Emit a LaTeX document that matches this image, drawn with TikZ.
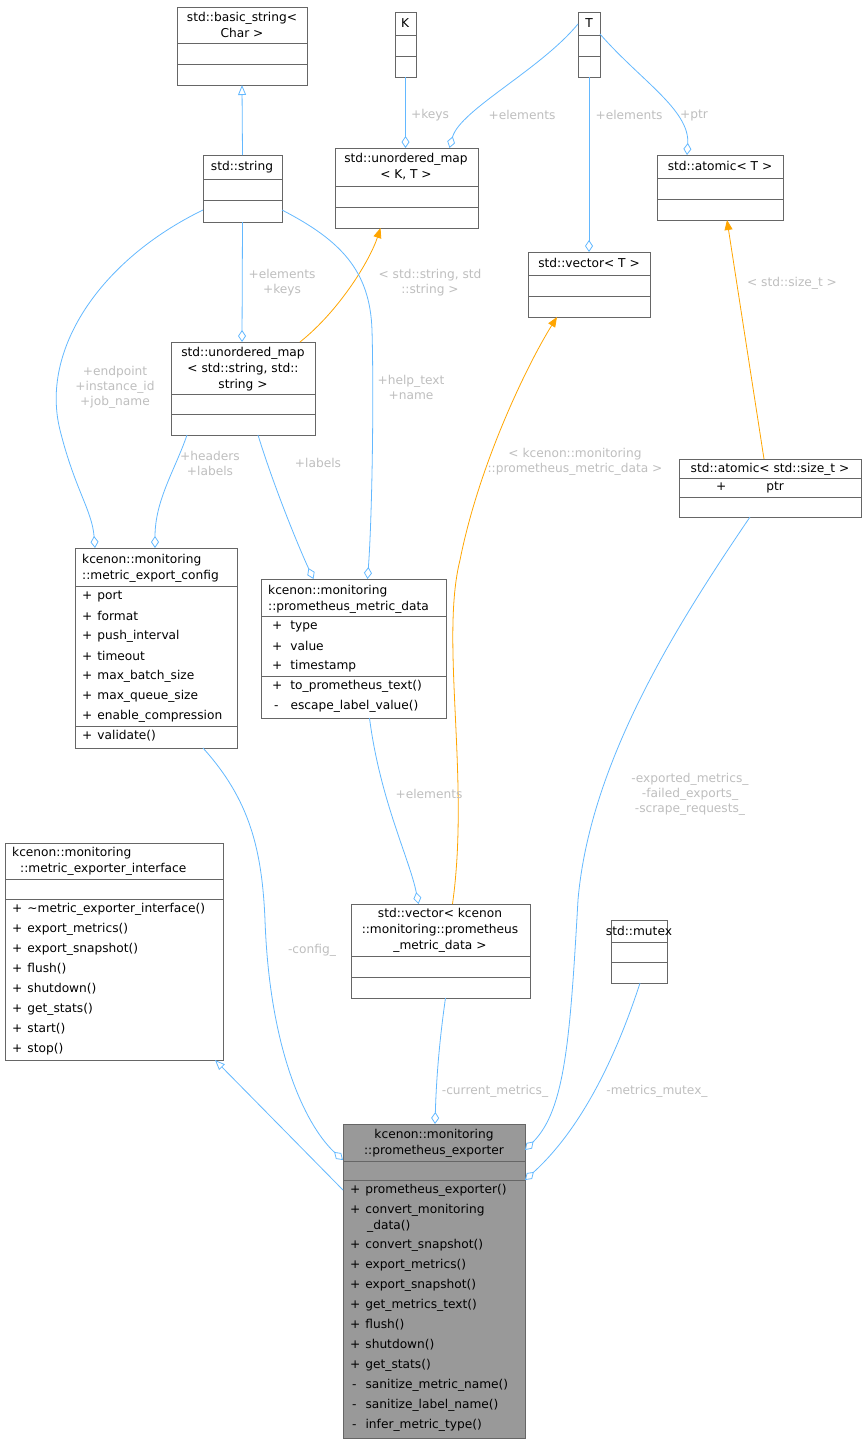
\documentclass[tikz,border=0pt]{standalone}
\usepackage{fontspec}
\setmainfont{DejaVu Sans}
\usetikzlibrary{arrows.meta}
\definecolor{eb}{HTML}{63B8FF}
\definecolor{eo}{HTML}{FFA500}
\definecolor{lg}{HTML}{BEBEBE}
\definecolor{bd}{HTML}{666666}
\begin{document}
\begin{tikzpicture}[x=1pt,y=-1pt,
  every node/.style={font=\fontsize{12.2}{16}\selectfont,inner sep=0pt},
  box/.style={draw=bd,line width=0.8pt,inner sep=0pt,outer sep=0pt},
  sep/.style={draw=bd,line width=0.8pt},
  agg/.style={draw=eb,line width=0.8pt,-{Diamond[open,length=12pt,width=8pt]}},
  inh/.style={draw=eb,line width=0.8pt,-{Triangle[open,length=10pt,width=8pt]}},
  tpl/.style={draw=eo,line width=0.8pt,-{Triangle[length=10pt,width=8pt]}},
  lbl/.style={text=lg,align=center,font=\fontsize{12.2}{15}\selectfont},
  tt/.style={align=center},
  mm/.style={anchor=west}]
\useasboundingbox (0,0) rectangle (867,1444);
\newcommand\clsbox[6]{\node[box,fill=#6,minimum width={(#4-#2)*1pt},minimum height={(#5-#3)*1pt}] (#1) at ({(#2+#4)/2},{(#3+#5)/2}) {};}
\newcommand\hsep[3]{\draw[sep] (#1,#3) -- (#2,#3);}
% basic_string
\clsbox{bs}{177}{7}{307}{85}{white}
\node[tt] at (242,25) {std::basic\_string\textless\\Char \textgreater};
\hsep{177}{307}{43}\hsep{177}{307}{64}
% K
\clsbox{K}{395}{12}{416}{77}{white}
\node at (405,23) {K};\hsep{395}{416}{35}\hsep{395}{416}{56}
% T
\clsbox{T}{578}{12}{600}{77}{white}
\node at (589,23) {T};\hsep{578}{600}{35}\hsep{578}{600}{56}
% string
\clsbox{str}{203}{155}{282}{222}{white}
\node at (242,167) {std::string};\hsep{203}{282}{179}\hsep{203}{282}{200}
% umap KT
\clsbox{umkt}{335}{148}{478}{228}{white}
\node[tt] at (406,167) {std::unordered\_map\\\textless{} K, T \textgreater};
\hsep{335}{478}{186}\hsep{335}{478}{207}
% atomic T
\clsbox{atT}{657}{155}{783}{220}{white}
\node at (720,166) {std::atomic\textless{} T \textgreater};\hsep{657}{783}{178}\hsep{657}{783}{199}
% vector T
\clsbox{vecT}{528}{252}{650}{317}{white}
\node at (589,263) {std::vector\textless{} T \textgreater};\hsep{528}{650}{275}\hsep{528}{650}{296}
% umap string
\clsbox{umss}{171}{342}{315}{435}{white}
\node[tt] at (243,369) {std::unordered\_map\\\textless{} std::string, std::\\string \textgreater};
\hsep{171}{315}{394}\hsep{171}{315}{414}
% atomic size_t
\clsbox{atS}{679}{459}{861}{517}{white}
\node at (770,469) {std::atomic\textless{} std::size\_t \textgreater};
\hsep{679}{861}{478}\node[mm] at (716,487) {+\hspace{40pt}ptr};\hsep{679}{861}{497}
% metric_export_config
\clsbox{mec}{75}{548}{237}{748}{white}
\node[tt,anchor=west,align=left] at (82,568) {kcenon::monitoring\\::metric\_export\_config};
\hsep{75}{237}{586}
\foreach \t [count=\i from 0] in {port,format,push\_interval,timeout,max\_batch\_size,max\_queue\_size,enable\_compression}
  \node[mm] at (82,596+20*\i) {+\hspace{5pt}\t};
\hsep{75}{237}{726}\node[mm] at (82,736) {+\hspace{5pt}validate()};
% prometheus_metric_data
\clsbox{pmd}{261}{579}{446}{718}{white}
\node[anchor=west,align=left] at (268,599) {kcenon::monitoring\\::prometheus\_metric\_data};
\hsep{261}{446}{616}
\node[mm] at (272,626) {+\hspace{8pt}type};
\node[mm] at (272,646) {+\hspace{8pt}value};
\node[mm] at (272,666) {+\hspace{8pt}timestamp};
\hsep{261}{446}{676}
\node[mm] at (272,686) {+\hspace{8pt}to\_prometheus\_text()};
\node[mm] at (274,706) {-\hspace{12pt}escape\_label\_value()};
% interface
\clsbox{iface}{5}{843}{223}{1060}{white}
\node[anchor=west,align=left] at (12,861) {kcenon::monitoring\\\hspace*{8pt}::metric\_exporter\_interface};
\hsep{5}{223}{879}\hsep{5}{223}{899}
\foreach \t [count=\i from 0] in {\textasciitilde metric\_exporter\_interface(),export\_metrics(),export\_snapshot(),flush(),shutdown(),get\_stats(),start(),stop()}
  \node[mm] at (12,909+20*\i) {+\hspace{5pt}\t};
% vector prom
\clsbox{vecP}{351}{904}{530}{998}{white}
\node[tt] at (440,930) {std::vector\textless{} kcenon\\::monitoring::prometheus\\\_metric\_data \textgreater};
\hsep{351}{530}{956}\hsep{351}{530}{977}
% mutex
\clsbox{mtx}{611}{920}{667}{983}{white}
\node at (639,931) {std::mutex};\hsep{611}{667}{942}\hsep{611}{667}{962}
% prometheus_exporter
\clsbox{pe}{343}{1124}{525}{1438}{black!40}
\node[tt] at (434,1143) {kcenon::monitoring\\::prometheus\_exporter};
\hsep{343}{525}{1161}\hsep{343}{525}{1180}
\node[mm] at (350,1190) {+\hspace{5pt}prometheus\_exporter()};
\node[mm,align=left] at (350,1218) {+\hspace{5pt}convert\_monitoring\\\hspace*{17pt}\_data()};
\foreach \t [count=\i from 0] in {convert\_snapshot(),export\_metrics(),export\_snapshot(),get\_metrics\_text(),flush(),shutdown(),get\_stats()}
  \node[mm] at (350,1245+20*\i) {+\hspace{5pt}\t};
\foreach \t [count=\i from 0] in {sanitize\_metric\_name(),sanitize\_label\_name(),infer\_metric\_type()}
  \node[mm] at (352,1385+20*\i) {-\hspace{9pt}\t};
% ===== edges
\draw[inh] (str.north) -- (bs.south);
\draw[agg] (K.south) -- ([xshift=-1pt]umkt.north);
\draw[agg] ([yshift=-12pt]T.north west) .. controls (540,70) and (460,110) .. ([xshift=43pt]umkt.north);
\node[lbl] at (522,115) {+elements};
\node[lbl] at (430,115) {+keys};
\draw[agg] (T.south) -- (vecT.north);
\node[lbl] at (629,115) {+elements};
\draw[agg] ([yshift=-22pt]T.north east) .. controls (640,80) and (690,110) .. ([xshift=-33pt]atT.north);
\node[lbl] at (694,115) {+ptr};
\draw[agg] (str.south) -- ([xshift=-1pt]umss.north);
\node[lbl] at (282,283) {+elements\\+keys};
\draw[tpl] ([xshift=57pt]umss.north) .. controls (340,310) and (370,260) .. ([xshift=-26pt]umkt.south);
\node[lbl] at (430,283) {\textless{} std::string, std\\::string \textgreater};
\draw[tpl] ([xshift=12pt]vecP.north) .. controls (470,780) and (440,640) .. (460,560) .. controls (480,460) and (530,360) .. ([xshift=-32pt]vecT.south);
\node[lbl] at (575,462) {\textless{} kcenon::monitoring\\::prometheus\_metric\_data \textgreater};
\draw[tpl] ([xshift=-6pt]atS.north) -- ([xshift=7pt]atT.south);
\node[lbl] at (792,283) {\textless{} std::size\_t \textgreater};
\draw[agg] ([yshift=-55pt]str.north west) .. controls (100,260) and (40,350) .. (60,430) .. controls (75,490) and (92,510) .. ([xshift=-61pt]mec.north);
\node[lbl] at (115,387) {+endpoint\\+instance\_id\\+job\_name};
\draw[agg] ([yshift=-55pt]str.north east) .. controls (340,240) and (370,270) .. (372,330) .. controls (374,400) and (372,520) .. ([xshift=14pt]pmd.north);
\node[lbl] at (411,387) {+help\_text\\+name};
\draw[agg] ([xshift=-56pt]umss.south) .. controls (175,470) and (155,500) .. ([xshift=-1pt]mec.north);
\node[lbl] at (210,463) {+headers\\+labels};
\draw[agg] ([xshift=15pt]umss.south) .. controls (275,490) and (300,550) .. ([xshift=-40pt]pmd.north);
\node[lbl] at (318,463) {+labels};
\draw[agg] ([xshift=16pt]pmd.south) .. controls (380,800) and (410,860) .. ([xshift=-22pt]vecP.north);
\node[lbl] at (429,794) {+elements};
\draw[agg] ([xshift=-34pt]mec.south east) .. controls (250,800) and (262,850) .. (265,920) .. controls (270,1060) and (310,1130) .. ([yshift=-36pt]pe.north west);
\node[lbl] at (312,950) {-config\_};
\draw[inh] ([yshift=-66pt]pe.north west) -- ([xshift=-8pt]iface.south east);
\draw[agg] ([xshift=5pt]vecP.south) .. controls (438,1050) and (436,1090) .. ([xshift=1pt]pe.north);
\node[lbl] at (495,1091) {-current\_metrics\_};
\draw[agg] ([xshift=-20pt]atS.south) .. controls (680,620) and (590,760) .. (578,900) .. controls (570,1040) and (565,1110) .. ([yshift=-26pt]pe.north east);
\node[lbl] at (690,794) {-exported\_metrics\_\\-failed\_exports\_\\-scrape\_requests\_};
\draw[agg] ([xshift=1pt]mtx.south) .. controls (615,1060) and (580,1130) .. ([yshift=-56pt]pe.north east);
\node[lbl] at (657,1091) {-metrics\_mutex\_};
\end{tikzpicture}
\end{document}
